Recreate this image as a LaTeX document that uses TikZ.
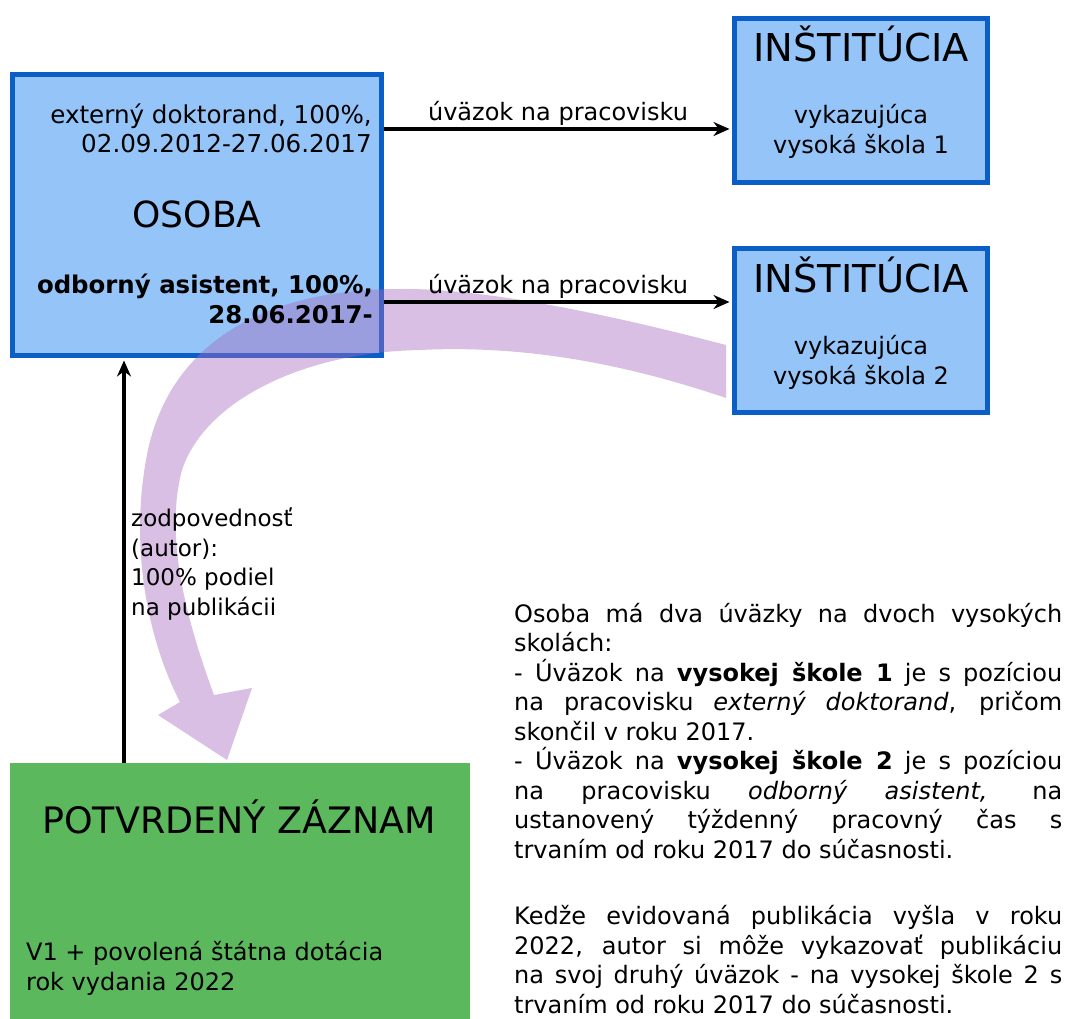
\documentclass[tikz,border=0pt]{standalone}
\usepackage{fontspec}
\setmainfont{DejaVu Sans}
\usetikzlibrary{arrows.meta}

\definecolor{boxblue}{RGB}{148,196,248}
\definecolor{edgeblue}{RGB}{10,94,198}
\definecolor{okgreen}{RGB}{92,184,92}
\definecolor{flowpurple}{RGB}{164,106,190}

\newlength{\bodywd}
\setlength{\bodywd}{548pt}
\newcommand{\jline}[1]{\makebox[\bodywd][s]{#1}}

\begin{document}
\begin{tikzpicture}[x=1pt, y=-1pt, >={Stealth[length=16pt, width=14pt]},
        entity/.style={draw=edgeblue, fill=boxblue, line width=5pt, inner sep=0pt},
        link/.style={->, line width=3.5pt, shorten >=2.5pt},
        txt/.style={inner sep=0pt, font=\fontsize{24}{29}\selectfont},
        big/.style={inner sep=0pt, font=\fontsize{36}{40}\selectfont}]
            \path[use as bounding box, clip] (0,0) rectangle (1066,1018);

            \node[entity, minimum width=369pt, minimum height=281pt] (osoba) at (197,215) {};
            \foreach \i/\y in {1/100, 2/330}
                \node[entity, minimum width=253pt, minimum height=164pt] (inst\i) at (861,\y) {};
            \node[fill=okgreen, inner sep=0pt, minimum width=460pt, minimum height=280pt, anchor=north west] (zaznam) at (10,763) {};

            % velka fialova sipka
            \fill[flowpurple, fill opacity=0.43] (726,345) .. controls (600,312) and (480,288) .. (400,289)
                .. controls (255,289) and (165,350) .. (146,460)
                .. controls (130,550) and (148,640) .. (180,702)
                -- (158,715) -- (227,760) -- (252,688) -- (214,695)
                .. controls (190,630) and (163,540) .. (182,470)
                .. controls (205,400) and (305,352) .. (420,350)
                .. controls (520,345) and (620,362) .. (726,398) -- cycle;

            \node[txt, font=\fontsize{24.6}{29}\selectfont, align=right, anchor=base east] (doktorand) at (372,152) {externý doktorand, 100\%,\\02.09.2012-27.06.2017};
            \node[big, anchor=base] (osobalbl) at (197,227) {OSOBA};
            \node[txt, font=\fontsize{24.4}{30}\selectfont\bfseries, align=right, anchor=base east] (asistent) at (373,323) {odborný asistent, 100\%,\\28.06.2017-};

            \foreach \i/\y in {1/61, 2/292} {
                \node[big, font=\fontsize{38.4}{40}\selectfont, anchor=base] (instlbl\i) at (861,\y) {INŠTITÚCIA};
                \node[txt, font=\fontsize{24}{30}\selectfont, align=center, anchor=base] (skola\i) at (861,\y+92) {vykazujúca\\vysoká škola \i};
            }

            \node[big, font=\fontsize{36.4}{40}\selectfont, anchor=base] (zaznamlbl) at (239,833) {POTVRDENÝ ZÁZNAM};
            \node[txt, font=\fontsize{24}{30}\selectfont, align=left, anchor=base west] (dotacia) at (26,990) {V1 + povolená štátna dotácia\\rok vydania 2022};

            % uvazky
            \foreach \i/\y in {1/129, 2/302} {
                \coordinate (row\i) at (0,\y);
                \draw[link] (osoba.east |- row\i) -- (inst\i.west |- row\i)
                    node[txt, midway, anchor=base, yshift=9pt] {úväzok na pracovisku};
            }

            % zodpovednost
            \coordinate (col) at (124,0);
            \draw[link] (zaznam.north -| col) -- (osoba.south -| col);
            \node[txt, font=\fontsize{23}{29.5}\selectfont, align=left, anchor=base west] (podiel) at (131,615) {zodpovednosť\\(autor):\\100\% podiel\\na publikácii};

            \node[txt, font=\fontsize{24}{29.5}\selectfont, align=left, anchor=base west] (popis) at (514,1013) {%
                \jline{Osoba má dva úväzky na dvoch vysokých}\\
                skolách:\\
                \jline{- Úväzok na \textbf{vysokej škole 1} je s pozíciou}\\
                \jline{na pracovisku \textit{externý doktorand}, pričom}\\
                skončil v roku 2017.\\
                \jline{- Úväzok na \textbf{vysokej škole 2} je s pozíciou}\\
                \jline{na pracovisku \textit{odborný asistent,} na}\\
                \jline{ustanovený týždenný pracovný čas s}\\
                trvaním od roku 2017 do súčasnosti.\\[37pt]
                \jline{Kedže evidovaná publikácia vyšla v roku}\\
                \jline{2022, autor si môže vykazovať publikáciu}\\
                \jline{na svoj druhý úväzok - na vysokej škole 2 s}\\
                trvaním od roku 2017 do súčasnosti.};
        \end{tikzpicture}
\end{document}
